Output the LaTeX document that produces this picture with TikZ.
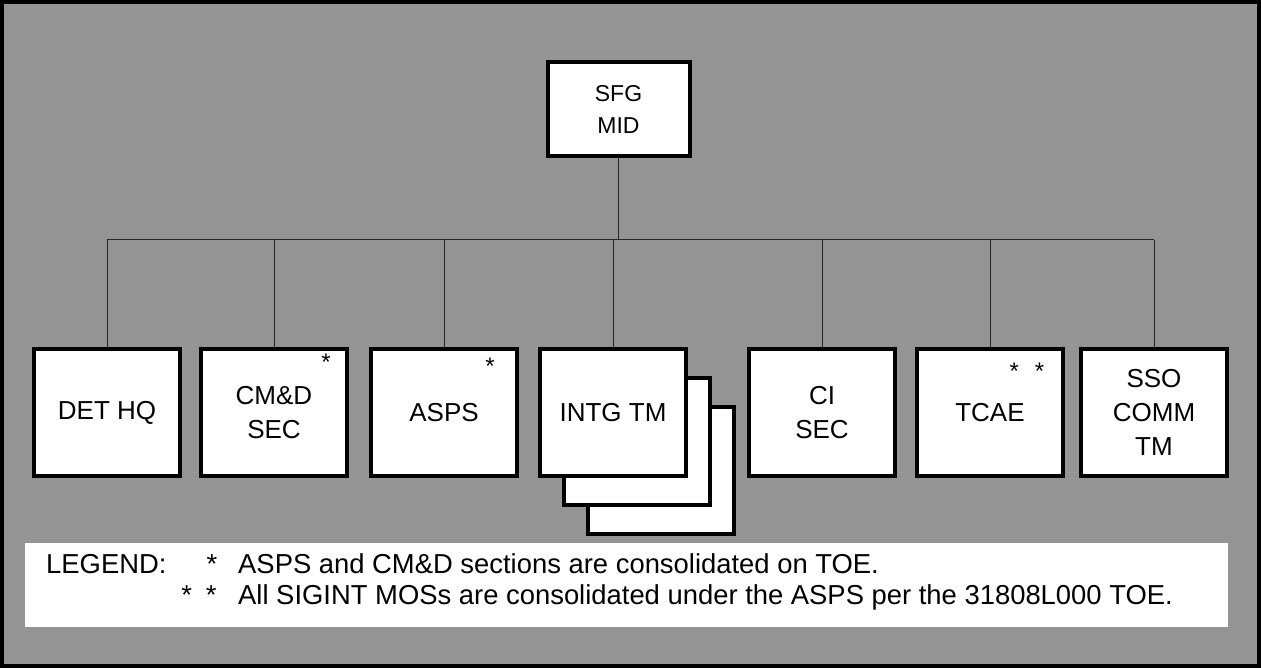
\documentclass[tikz,border=0pt]{standalone}
\usepackage{fontspec}
\setmainfont{Liberation Sans}
\usetikzlibrary{calc,positioning}

\begin{document}
\begin{tikzpicture}[x=1pt,y=-1pt,
  unit/.style={draw=black,line width=4pt,fill=white,minimum width=146pt,minimum height=127pt,align=center,font=\fontsize{26}{34}\selectfont},
  wire/.style={line width=1pt,black!85},
  starmark/.style={inner sep=0pt,font=\fontsize{24}{24}\selectfont},
  legendtxt/.style={inner sep=0pt,font=\fontsize{27.4}{32}\selectfont}]
  \useasboundingbox (0,0) rectangle (1261,668);
  \fill[black!42] (0,0) rectangle (1261,668);
  \draw[line width=4pt] (2,2) rectangle (1259,666);
  % legend panel
  \node[fill=white,minimum width=1203pt,minimum height=84pt,inner sep=0pt] (legend) at (626.5,585) {};
  % bus
  \coordinate (busL) at (107,240);
  \coordinate (busR) at (1154,240);
  \draw[wire] (busL) -- (busR);
  \node[unit,minimum width=142pt,minimum height=94pt,font=\fontsize{23}{32}\selectfont] (sfg) at (618.5,109.5) {SFG\\MID};
  \draw[wire] (sfg.south) -- (sfg.south |- busL);
  % stacked teams behind INTG TM
  \node[unit] (intgC) at (661,470.5) {};
  \node[unit] (intgB) at (637,441.5) {};
  \foreach \name/\x/\txt in {dethq/107/DET HQ, cmd/274/{CM\&D\\SEC}, asps/444/ASPS, intg/613/INTG TM, cisec/822/{CI\\SEC}, tcae/990/TCAE, sso/1154/{SSO\\COMM\\TM}} {
    \node[unit] (\name) at (\x,412.5) {\txt};
    \draw[wire] (\name.north) -- (\name.north |- busL);
  }
  \node[starmark] (cmdstar) at (326,362) {*};
  \node[starmark] (aspsstar) at (490,366) {*};
  \node[starmark] (tcaestar) at (1027,371) {*\hspace{16pt}*};
  % legend text
  \node[legendtxt,anchor=base west] (legtitle) at (46,573) {LEGEND:};
  \node[legendtxt,anchor=base] (star1) at (212,573) {*};
  \node[legendtxt,anchor=base west] (note1) at (238,573) {ASPS and CM\&D sections are consolidated on TOE.};
  \node[legendtxt,anchor=base] (star2) at (199,604) {*\hspace{14pt}*};
  \node[legendtxt,anchor=base west] (note2) at (238,604) {All SIGINT MOSs are consolidated under the ASPS per the 31808L000 TOE.};
\end{tikzpicture}
\end{document}
